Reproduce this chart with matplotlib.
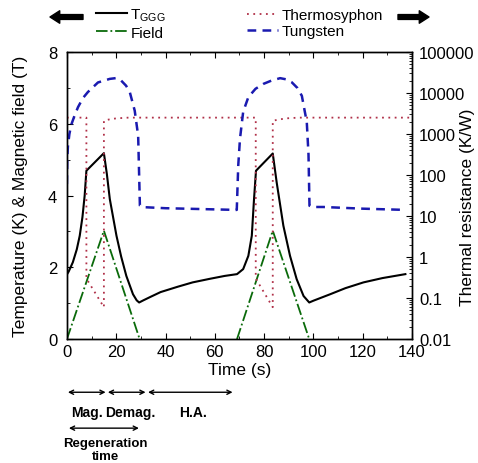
import numpy as np
import matplotlib
matplotlib.use('Agg')
import matplotlib.pyplot as plt
from matplotlib.ticker import MultipleLocator, FuncFormatter, LogLocator

plt.rcParams['font.family'] = ['Liberation Sans', 'DejaVu Sans']
plt.rcParams['mathtext.fontset'] = 'custom'
plt.rcParams['mathtext.rm'] = 'Liberation Sans'

# ---- data ----
# T_GGG (K), left axis
t_ggg = [0, 0.7, 2.4, 4.0, 5.2, 6.3, 7.2, 7.9, 15.0, 16.2, 17.4, 20.1, 22.0, 24.1,
         26.8, 28.3, 29.3, 31, 34, 38, 45, 51, 58, 64, 69,
         71.5, 73.6, 75.0, 75.9, 76.7, 83.5, 85.1, 87.8, 90.5, 93.2, 96.0, 98.3,
         100, 106.8, 113, 120.3, 128, 137.3]
T_ggg = [1.80, 1.88, 2.14, 2.50, 2.88, 3.40, 4.00, 4.69, 5.18, 4.60, 3.90, 2.88, 2.30, 1.76,
         1.25, 1.08, 1.02, 1.08, 1.18, 1.31, 1.46, 1.58, 1.68, 1.76, 1.81,
         1.95, 2.32, 2.88, 3.90, 4.69, 5.17, 4.36, 3.16, 2.32, 1.67, 1.20, 1.02,
         1.07, 1.25, 1.42, 1.58, 1.70, 1.81]

# magnetic field (T), left axis
t_field = [0, 15.0, 29.5, np.nan, 69.0, 83.5, 98.3]
B_field = [0, 3.02, 0, np.nan, 0, 3.02, 0]

# thermosyphon thermal resistance (K/W), right axis
t_thermo = [0, 7.9, 7.9, 15.0, 15.0, 17, 20, 25, 76.6, 76.6, 83.5, 83.5, 86, 89, 94, 140]
R_thermo = [2500, 2500, 0.3, 0.06, 2100, 2250, 2400, 2500, 2500, 0.3, 0.06, 2100, 2250, 2400, 2500, 2500]

# tungsten thermal resistance (K/W), right axis
t_tung = [0, 0.15, 0.4, 1.0, 1.8, 3.0, 4.5, 6.5, 8.5, 12.6, 17.4, 20, 22, 24, 25.5, 27.5,
          28.9, 29.6, 30.5, 40, 50, 60, 68.5,
          68.9, 69.5, 70.2, 71.5, 73.6, 76.5, 79.7, 83, 86.5, 89, 91.2, 93.5, 95.3, 97.3,
          98.0, 98.4, 99.5, 104, 120, 137.3]
R_tung = [60, 250, 500, 1000, 1700, 2700, 4500, 7500, 10500, 18000, 22000, 23000, 20000, 15000, 10500, 3700,
          900, 18, 16.5, 15.5, 15, 14.5, 14.1,
          14.1, 170, 760, 3470, 7900, 12600, 16600, 20000, 22900, 21400, 18200, 13200, 8500, 1950,
          316, 17.8, 16.6, 16.6, 15.1, 14.1]

# phase bars under the axis
phase_start = [0.4, 16.6, 32.9]
phase_end = [15.7, 31.9, 67.2]
phase_label = ['Mag.', 'Demag.', 'H.A.']
phase_label_x = [8.3, 25.8, 51.0]
regen_start, regen_end = 0.8, 29.2

# ---- plot ----
fig = plt.figure(figsize=(4.78, 4.64), dpi=100)
ax = fig.add_axes([0.140, 0.267, 0.722, 0.619])
ax2 = ax.twinx()

l1, = ax.plot(t_ggg, T_ggg, color='k', lw=1.5, label=r'T$_{\mathregular{GGG}}$')
l2, = ax.plot(t_field, B_field, color='#0a6a0a', lw=1.3, ls='-.', label='Field')
l3, = ax2.plot(t_thermo, R_thermo, color='#b03048', lw=1.3, ls=(0, (1, 2.5)), label='Thermosyphon')
l4, = ax2.plot(t_tung, R_tung, color='#1a1ab0', lw=1.8, ls=(0, (3.5, 2.5)), label='Tungsten')

ax.set_xlim(0, 140)
ax.set_ylim(0, 8)
ax.xaxis.set_major_locator(MultipleLocator(20))
ax.xaxis.set_minor_locator(MultipleLocator(10))
ax.yaxis.set_major_locator(MultipleLocator(2))
ax.yaxis.set_minor_locator(MultipleLocator(1))
ax.tick_params(which='both', direction='in', top=True, labelsize=12)
ax.tick_params(which='major', length=4)
ax.tick_params(which='minor', length=2.5)
ax.tick_params(axis='y', pad=7)
ax.set_xlabel('Time (s)', fontsize=12.5, labelpad=2)
ax.set_ylabel('Temperature (K) & Magnetic field (T)', fontsize=12.5)
ax.yaxis.set_label_coords(-0.113, 0.5)

ax2.set_yscale('log')
ax2.set_ylim(0.01, 100000)
ax2.yaxis.set_major_locator(LogLocator(base=10, numticks=10))
ax2.yaxis.set_minor_locator(LogLocator(base=10, subs=np.arange(2, 10), numticks=10))
ax2.yaxis.set_major_formatter(FuncFormatter(lambda v, p: '%g' % v))
ax2.tick_params(which='both', direction='in', labelsize=12, pad=5)
ax2.tick_params(which='major', length=4)
ax2.tick_params(which='minor', length=2)
ax2.set_ylabel('Thermal resistance (K/W)', fontsize=12.5)
ax2.yaxis.set_label_coords(1.139, 0.463)

for a in (ax, ax2):
    for s in a.spines.values():
        s.set_linewidth(1.0)

# legends above the axes
leg_kw = dict(loc='center left', frameon=False, fontsize=11, handlelength=2.0,
              handletextpad=0.25, labelspacing=0.15, borderpad=0, borderaxespad=0)
fig.legend(handles=[l1, l2], bbox_to_anchor=(0.201, 0.948), **leg_kw)
fig.legend(handles=[l3, l4], bbox_to_anchor=(0.517, 0.948), **leg_kw)

# big arrows at the top pointing to each axis
arrow_style = 'simple,head_length=0.7,head_width=0.9,tail_width=0.35'
ax.annotate('', xy=(50, 446), xytext=(83, 446), xycoords='figure pixels',
            arrowprops=dict(arrowstyle=arrow_style, color='k', shrinkA=0, shrinkB=0))
ax.annotate('', xy=(429, 446), xytext=(398, 446), xycoords='figure pixels',
            arrowprops=dict(arrowstyle=arrow_style, color='k', shrinkA=0, shrinkB=0))

# phase bars below the axis
bar_kw = dict(arrowstyle='<->,head_length=0.3,head_width=0.15', color='k', lw=1.0,
              shrinkA=0, shrinkB=0)
for s, e, lab, lx in zip(phase_start, phase_end, phase_label, phase_label_x):
    ax.annotate('', xy=(s, -0.185), xytext=(e, -0.185),
                xycoords=('data', 'axes fraction'), arrowprops=bar_kw, annotation_clip=False)
    ax.text(lx, -0.255, lab, transform=ax.get_xaxis_transform(),
            ha='center', va='center', fontsize=10, fontweight='bold')
ax.annotate('', xy=(regen_start, -0.31), xytext=(regen_end, -0.31),
            xycoords=('data', 'axes fraction'), arrowprops=bar_kw, annotation_clip=False)
ax.text((regen_start + regen_end) / 2 + 0.5, -0.385, 'Regeneration\ntime',
        transform=ax.get_xaxis_transform(), ha='center', va='center', fontsize=9.5,
        fontweight='bold', linespacing=1.15)

fig.savefig('out.png', dpi=100)
